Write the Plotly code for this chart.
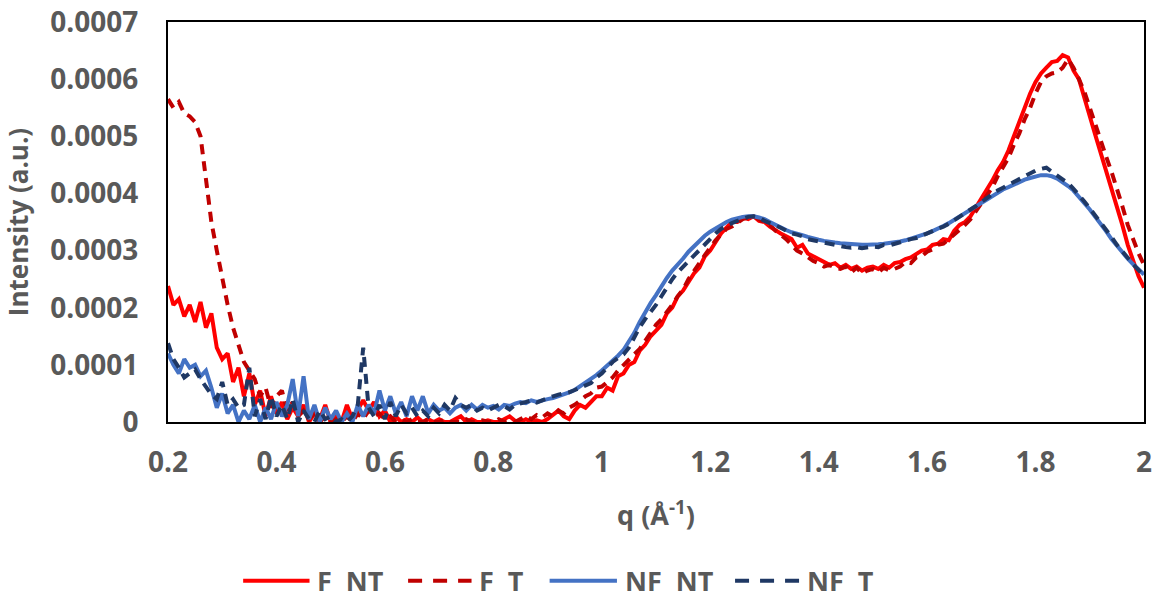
import numpy as np
import plotly.graph_objects as go

# q grid (Å^-1), 0.20 .. 2.00 step 0.01
q = [round(0.20 + 0.01 * i, 2) for i in range(181)]

# Intensities in units of 1e-4 a.u.
f_nt = [
    2.38, 2.05, 2.15, 1.85, 2.05, 1.75, 2.10, 1.65, 1.90, 1.30,
    1.10, 1.20, 0.70, 0.95, 0.45, 0.85, 0.30, 0.55, 0.10, 0.45,
    0.15, 0.35, 0.05, 0.25, 0.10, 0.30, 0.00, 0.15, 0.05, 0.30,
    0.00, 0.10, 0.00, 0.30, 0.05, 0.20, 0.38, 0.20, 0.35, 0.10,
    0.20, 0.00, 0.10, 0.00, 0.05, 0.00, 0.08, 0.00, 0.05, 0.00,
    0.05, 0.00, 0.00, 0.05, 0.10, 0.00, 0.05, 0.00, 0.00, 0.03,
    0.00, 0.00, 0.05, 0.10, 0.02, 0.00, 0.05, 0.00, 0.03, 0.00,
    0.05, 0.12, 0.20, 0.10, 0.05, 0.20, 0.30, 0.25, 0.35, 0.45,
    0.45, 0.60, 0.55, 0.80, 0.85, 1.00, 1.05, 1.25, 1.35, 1.50,
    1.60, 1.70, 1.90, 2.00, 2.20, 2.30, 2.45, 2.60, 2.70, 2.90,
    3.00, 3.15, 3.30, 3.40, 3.50, 3.50, 3.58, 3.55, 3.60, 3.52,
    3.50, 3.42, 3.35, 3.30, 3.25, 3.20, 3.05, 3.10, 2.95, 2.90,
    2.85, 2.80, 2.75, 2.78, 2.70, 2.75, 2.68, 2.72, 2.65, 2.70,
    2.72, 2.68, 2.75, 2.70, 2.78, 2.80, 2.85, 2.88, 2.95, 3.00,
    3.02, 3.10, 3.12, 3.20, 3.18, 3.35, 3.45, 3.50, 3.60, 3.75,
    3.90, 4.05, 4.22, 4.40, 4.55, 4.75, 5.00, 5.25, 5.50, 5.75,
    5.95, 6.10, 6.20, 6.30, 6.32, 6.42, 6.38, 6.15, 6.00, 5.65,
    5.35, 5.03, 4.72, 4.40, 4.10, 3.78, 3.45, 3.10, 2.80, 2.55,
    2.35,
]

f_t = [
    5.65, 5.50, 5.60, 5.40, 5.35, 5.25, 5.00, 4.30, 3.50, 3.00,
    2.50, 2.05, 1.65, 1.35, 1.05, 0.90, 0.75, 0.45, 0.60, 0.25,
    0.45, 0.55, 0.20, 0.35, 0.10, 0.20, 0.05, 0.15, 0.00, 0.10,
    0.00, 0.05, 0.00, 0.10, 0.00, 0.15, 0.05, 0.20, 0.10, 0.15,
    0.05, 0.10, 0.00, 0.05, 0.00, 0.05, 0.00, 0.00, 0.05, 0.00,
    0.00, 0.05, 0.00, 0.00, 0.00, 0.05, 0.00, 0.00, 0.03, 0.00,
    0.00, 0.05, 0.00, 0.02, 0.00, 0.05, 0.10, 0.05, 0.12, 0.08,
    0.15, 0.10, 0.20, 0.15, 0.25, 0.30, 0.38, 0.45, 0.50, 0.60,
    0.62, 0.70, 0.78, 0.90, 1.00, 1.10, 1.20, 1.28, 1.42, 1.55,
    1.70, 1.80, 1.92, 2.05, 2.20, 2.32, 2.50, 2.65, 2.78, 2.92,
    3.05, 3.18, 3.28, 3.38, 3.42, 3.48, 3.55, 3.58, 3.60, 3.55,
    3.50, 3.45, 3.35, 3.28, 3.20, 3.10, 3.00, 2.95, 2.88, 2.82,
    2.78, 2.72, 2.75, 2.70, 2.68, 2.72, 2.62, 2.70, 2.60, 2.65,
    2.68, 2.62, 2.70, 2.65, 2.68, 2.72, 2.80, 2.78, 2.88, 2.90,
    2.98, 3.02, 3.10, 3.12, 3.20, 3.28, 3.35, 3.45, 3.55, 3.68,
    3.82, 3.95, 4.10, 4.30, 4.45, 4.62, 4.85, 5.05, 5.30, 5.50,
    5.75, 5.95, 6.05, 6.10, 6.12, 6.20, 6.35, 6.20, 6.00, 5.78,
    5.50, 5.20, 4.95, 4.65, 4.38, 4.10, 3.78, 3.45, 3.20, 2.95,
    2.75,
]

nf_nt = [
    1.20, 1.00, 0.85, 1.10, 0.95, 1.00, 0.80, 0.90, 0.60, 0.25,
    0.50, 0.15, 0.30, 0.00, 0.20, 0.05, 0.30, 0.00, 0.25, 0.05,
    0.35, 0.10, 0.30, 0.75, 0.10, 0.80, 0.05, 0.30, 0.00, 0.25,
    0.05, 0.20, 0.00, 0.15, 0.00, 0.30, 0.10, 0.30, 0.15, 0.55,
    0.20, 0.45, 0.15, 0.35, 0.10, 0.45, 0.20, 0.45, 0.15, 0.30,
    0.20, 0.25, 0.15, 0.25, 0.30, 0.20, 0.30, 0.22, 0.30, 0.25,
    0.28, 0.22, 0.30, 0.28, 0.32, 0.35, 0.33, 0.38, 0.35, 0.38,
    0.40, 0.42, 0.45, 0.48, 0.52, 0.56, 0.62, 0.68, 0.75, 0.82,
    0.90, 0.98, 1.07, 1.16, 1.26, 1.40, 1.56, 1.75, 1.92, 2.08,
    2.22, 2.38, 2.52, 2.65, 2.75, 2.86, 2.98, 3.08, 3.18, 3.26,
    3.33, 3.39, 3.44, 3.50, 3.54, 3.57, 3.59, 3.60, 3.60, 3.58,
    3.55, 3.50, 3.45, 3.40, 3.36, 3.32, 3.30, 3.27, 3.24, 3.21,
    3.19, 3.17, 3.15, 3.14, 3.13, 3.12, 3.11, 3.10, 3.10, 3.10,
    3.10, 3.11, 3.12, 3.13, 3.14, 3.16, 3.18, 3.21, 3.23, 3.27,
    3.30, 3.34, 3.38, 3.43, 3.48, 3.54, 3.59, 3.65, 3.72, 3.78,
    3.84, 3.90, 3.96, 4.02, 4.07, 4.11, 4.16, 4.20, 4.24, 4.27,
    4.30, 4.32, 4.32, 4.30, 4.26, 4.20, 4.13, 4.05, 3.95, 3.83,
    3.72, 3.60, 3.47, 3.34, 3.20, 3.08, 2.97, 2.86, 2.76, 2.66,
    2.58,
]

nf_t = [
    1.38, 1.10, 0.95, 0.78, 0.85, 0.92, 0.75, 0.62, 0.48, 0.40,
    0.70, 0.30, 0.40, 0.25, 0.30, 0.95, 0.10, 0.40, 0.05, 0.45,
    0.10, 0.30, 0.05, 0.40, 0.00, 0.20, 0.05, 0.00, 0.20, 0.05,
    0.10, 0.00, 0.05, 0.00, 0.10, 0.30, 1.30, 0.25, 0.10, 0.30,
    0.05, 0.35, 0.10, 0.30, 0.15, 0.25, 0.10, 0.20, 0.10, 0.25,
    0.15, 0.30, 0.20, 0.42, 0.30, 0.25, 0.30, 0.20, 0.25, 0.20,
    0.25, 0.30, 0.28, 0.22, 0.30, 0.32, 0.35, 0.38, 0.34, 0.38,
    0.42, 0.45, 0.48, 0.50, 0.52, 0.56, 0.60, 0.64, 0.68, 0.78,
    0.85, 0.95, 1.05, 1.12, 1.18, 1.30, 1.48, 1.66, 1.80, 1.92,
    2.05, 2.20, 2.36, 2.50, 2.62, 2.72, 2.82, 2.92, 3.02, 3.12,
    3.22, 3.30, 3.38, 3.44, 3.48, 3.52, 3.56, 3.59, 3.60, 3.58,
    3.52, 3.48, 3.45, 3.40, 3.35, 3.30, 3.28, 3.25, 3.20, 3.18,
    3.15, 3.13, 3.12, 3.10, 3.08, 3.06, 3.05, 3.06, 3.04, 3.05,
    3.07, 3.06, 3.10, 3.09, 3.12, 3.14, 3.17, 3.20, 3.22, 3.26,
    3.30, 3.33, 3.37, 3.42, 3.47, 3.53, 3.59, 3.66, 3.72, 3.78,
    3.85, 3.92, 3.98, 4.05, 4.10, 4.15, 4.20, 4.25, 4.30, 4.35,
    4.40, 4.43, 4.45, 4.38, 4.32, 4.26, 4.18, 4.08, 3.98, 3.86,
    3.74, 3.62, 3.50, 3.37, 3.24, 3.10, 2.98, 2.87, 2.76, 2.66,
    2.55,
]

series_names = ["F\u00a0\u00a0NT", "F\u00a0\u00a0T", "NF\u00a0\u00a0NT", "NF\u00a0\u00a0T"]
series_colors = ["#FF0000", "#C00000", "#4472C4", "#1F3864"]
series_dash = ["solid", "10px,7px", "solid", "10px,7px"]
legend_dash = ["solid", "14px,11px", "solid", "14px,11px"]

x_ticks = [0.2, 0.4, 0.6, 0.8, 1, 1.2, 1.4, 1.6, 1.8, 2]
x_ticktext = ["0.2", "0.4", "0.6", "0.8", "1", "1.2", "1.4", "1.6", "1.8", "2"]
y_ticks = [0, 0.0001, 0.0002, 0.0003, 0.0004, 0.0005, 0.0006, 0.0007]
y_ticktext = ["0", "0.0001", "0.0002", "0.0003", "0.0004", "0.0005", "0.0006", "0.0007"]

SCALE = 1e-4
FONT = "Open Sans"
GREY = "#595959"

# legend layout (paper fractions): sample line start/end and label start
leg_line_x0 = [0.077, 0.246, 0.391, 0.581]
leg_line_x1 = [0.145, 0.311, 0.460, 0.647]
leg_text_x = [0.151, 0.317, 0.466, 0.653]
leg_y = -0.397

fig = go.Figure()
for name, vals, col, dash in zip(series_names, [f_nt, f_t, nf_nt, nf_t], series_colors, series_dash):
    fig.add_trace(go.Scatter(
        x=q, y=[v * SCALE for v in vals], mode="lines", name=name,
        line=dict(color=col, width=4, dash=dash),
    ))

shapes = []
annotations = []
for name, col, dash, x0, x1, xt in zip(series_names, series_colors, legend_dash,
                                       leg_line_x0, leg_line_x1, leg_text_x):
    shapes.append(dict(type="line", xref="paper", yref="paper", x0=x0, x1=x1,
                       y0=leg_y, y1=leg_y, line=dict(color=col, width=4, dash=dash)))
    annotations.append(dict(text=name, xref="paper", yref="paper", x=xt, y=leg_y,
                            xanchor="left", yanchor="middle", showarrow=False,
                            font=dict(family=FONT, size=27, color=GREY, weight="bold")))

fig.update_layout(
    width=1154, height=601,
    margin=dict(l=168, r=10, t=22, b=179),
    paper_bgcolor="white", plot_bgcolor="white",
    font=dict(family=FONT, color=GREY, size=27),
    showlegend=False,
    shapes=shapes,
    annotations=annotations,
)
fig.update_xaxes(
    range=[0.2, 2], tickvals=x_ticks, ticktext=x_ticktext, automargin=False,
    showgrid=False, zeroline=False, showline=True, linecolor="black", linewidth=2, mirror=True,
    ticks="", ticklabelstandoff=14,
    tickfont=dict(family=FONT, size=28, color=GREY, weight="bold"),
    title=dict(text="q (Å<sup>-1</sup>)", font=dict(family=FONT, size=27, color=GREY, weight="bold"), standoff=28),
)
fig.update_yaxes(
    range=[0, 0.0007], tickvals=y_ticks, ticktext=y_ticktext, automargin=False,
    showgrid=False, zeroline=False, showline=True, linecolor="black", linewidth=2, mirror=True,
    ticks="", ticklabelstandoff=22,
    tickfont=dict(family=FONT, size=28, color=GREY, weight="bold"),
    title=dict(text="Intensity (a.u.)", font=dict(family=FONT, size=26, color=GREY, weight="bold"), standoff=14),
)

fig.write_html("out.html")
